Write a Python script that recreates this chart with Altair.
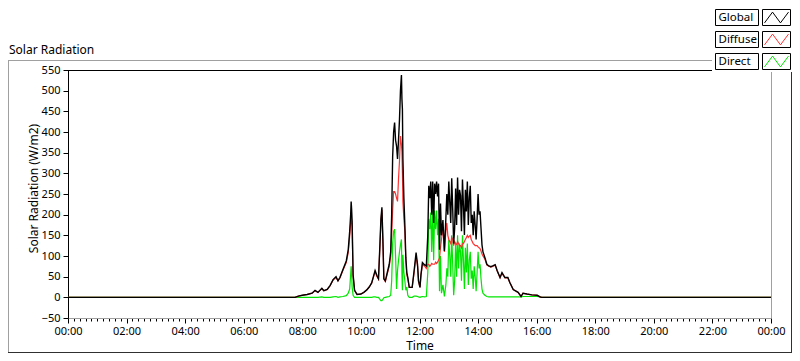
import altair as alt
import pandas as pd

# ---------------- data ----------------
times = [
    "00:00", "07:45", "07:52", "08:00", "08:10", "08:20", "08:26", "08:32", "08:40", "08:44",
    "08:51", "08:57", "09:03", "09:09", "09:13", "09:17", "09:23", "09:30", "09:34", "09:37",
    "09:39", "09:40", "09:41", "09:42", "09:44", "09:47", "09:52", "10:00", "10:06", "10:12",
    "10:17", "10:22", "10:26", "10:29", "10:33", "10:36", "10:39", "10:41", "10:43", "10:45",
    "10:47", "10:50", "10:54", "10:58", "11:01", "11:03", "11:05", "11:07", "11:09", "11:11",
    "11:13", "11:15", "11:17", "11:19", "11:21", "11:23", "11:24", "11:25", "11:26", "11:28",
    "11:30", "11:32", "11:34", "11:36", "11:39", "11:45", "11:49", "11:53", "11:56", "11:58",
    "12:01", "12:03", "12:06", "12:10", "12:14", "12:17", "12:19", "12:21", "12:23", "12:25",
    "12:27", "12:29", "12:31", "12:33", "12:35", "12:37", "12:39", "12:41", "12:43", "12:45",
    "12:48", "12:51", "12:54", "12:56", "12:58", "13:00", "13:02", "13:04", "13:06", "13:08",
    "13:10", "13:12", "13:14", "13:16", "13:18", "13:20", "13:22", "13:24", "13:26", "13:28",
    "13:30", "13:32", "13:34", "13:36", "13:38", "13:40", "13:42", "13:44", "13:46", "13:48",
    "13:50", "13:52", "13:54", "13:56", "13:58", "14:00", "14:02", "14:04", "14:06", "14:08",
    "14:10", "14:14", "14:18", "14:22", "14:26", "14:30", "14:35", "14:39", "14:45", "14:49",
    "14:55", "15:01", "15:05", "15:12", "15:22", "15:28", "15:32", "15:40", "15:50", "16:01",
    "16:07", "16:10", "24:00",
]

global_wm2 = [
    0, 0, 3, 5, 7, 10, 17, 12, 22, 16,
    19, 29, 43, 50, 40, 48, 67, 88, 115, 160,
    200, 232, 212, 184, 55, 17, 7, 8, 12, 18,
    25, 35, 52, 65, 52, 45, 130, 190, 218, 140,
    45, 40, 60, 80, 110, 200, 340, 400, 423, 380,
    366, 335, 380, 430, 500, 538, 480, 455, 335, 240,
    175, 96, 60, 48, 24, 24, 65, 108, 79, 40,
    24, 55, 84, 79, 76, 150, 270, 240, 280, 200,
    280, 180, 275, 250, 280, 244, 275, 115, 227, 150,
    187, 112, 191, 250, 200, 280, 230, 180, 288, 215,
    130, 167, 263, 175, 290, 200, 260, 246, 160, 285,
    222, 151, 260, 208, 280, 175, 240, 270, 180, 200,
    150, 208, 175, 140, 190, 250, 200, 208, 167, 127,
    110, 96, 80, 76, 74, 76, 79, 65, 48, 60,
    48, 48, 36, 19, 12, 2, 10, 8, 6, 5,
    1, 0, 0,
]

diffuse_wm2 = [
    0, 0, 3, 5, 7, 10, 16, 12, 21, 16,
    19, 28, 42, 48, 40, 47, 65, 84, 108, 148,
    180, 198, 185, 170, 52, 17, 7, 8, 12, 18,
    25, 34, 50, 62, 50, 44, 125, 185, 212, 138,
    44, 38, 57, 75, 100, 150, 210, 256, 256, 250,
    240, 232, 287, 330, 390, 370, 352, 300, 232, 190,
    160, 90, 55, 45, 24, 24, 60, 100, 75, 38,
    24, 53, 80, 76, 70, 80, 80, 75, 78, 82,
    80, 80, 80, 85, 82, 85, 90, 95, 120, 140,
    170, 110, 160, 180, 150, 140, 135, 130, 145, 140,
    125, 135, 130, 128, 135, 130, 125, 125, 120, 130,
    130, 135, 140, 145, 150, 145, 148, 150, 140, 135,
    130, 128, 125, 125, 125, 122, 120, 118, 112, 105,
    100, 92, 78, 75, 73, 75, 78, 64, 47, 58,
    47, 47, 36, 19, 12, 2, 10, 8, 6, 5,
    1, 0, 0,
]

direct_wm2 = [
    0, 0, 0, 0, 0, 0, 0, 0, 1, 0,
    0, 0, 1, 2, 0, 1, 2, 4, 10, 20,
    55, 75, 60, 25, 5, 0, 0, 0, 0, 0,
    0, 0, 1, 1, 0, 0, -5, -8, -8, -5,
    -1, 0, 1, 2, 5, 40, 130, 160, 165, 100,
    20, 65, 89, 110, 127, 140, 55, 17, 103, 60,
    40, 17, 25, 5, 0, 0, 3, 3, 2, 1,
    0, 1, 2, 1, 2, 60, 190, 165, 205, 110,
    210, 90, 210, 165, 210, 150, 190, 15, 100, 10,
    30, 2, 30, 70, 50, 140, 100, 50, 150, 80,
    5, 40, 130, 50, 150, 70, 130, 110, 40, 150,
    90, 20, 120, 60, 130, 30, 90, 110, 45, 65,
    20, 75, 50, 15, 60, 110, 70, 80, 45, 20,
    10, 5, 2, 1, 1, 1, 1, 1, 1, 1,
    1, 1, 1, 1, 1, 1, 2, 2, 2, 2,
    1, 0, 0,
]

series_names = ["Global", "Diffuse", "Direct"]
series_colors = ["#000000", "#ff3030", "#00e600"]
y_tick_values = [-50, 0, 50, 100, 150, 200, 250, 300, 350, 400, 450, 500, 550]
x_tick_minutes = list(range(0, 1441, 12))   # minor tick every 12 min, label every 2 h

assert len(times) == len(global_wm2) == len(diffuse_wm2) == len(direct_wm2)


def to_minutes(s):
    h, m = s.split(":")
    return int(h) * 60 + int(m)


df = pd.DataFrame({
    "t": [to_minutes(s) for s in times],
    "Global": global_wm2,
    "Diffuse": diffuse_wm2,
    "Direct": direct_wm2,
})

FONT = "Noto Sans"
W, H = 703, 248

xscale = alt.Scale(domain=[0, 1440], nice=False, zero=False)
yscale = alt.Scale(domain=[-50, 550], nice=False, zero=False)

xaxis = alt.Axis(
    values=x_tick_minutes,
    labelExpr="datum.value % 120 === 0 ? timeFormat(datetime(2000, 0, 1, 0, datum.value), '%H:%M') : ''",
    tickSize={"condition": {"test": "datum.value % 120 === 0", "value": 5}, "value": 3},
    labelOverlap=False, labelFlush=False, grid=False,
    domainColor="#a0a0a0", tickColor="#000000", labelColor="#000000",
    labelFont=FONT, labelFontSize=11, labelPadding=2,
    title="Time", titleFont=FONT, titleFontSize=12, titleFontWeight="normal",
    titleColor="#000000", titleX=W / 2, titleY=27, titleBaseline="middle",
)
yaxis = alt.Axis(
    values=y_tick_values, grid=False,
    domainColor="#000000", tickColor="#000000", tickSize=5, labelColor="#000000",
    labelFont=FONT, labelFontSize=11, labelPadding=3,
    title="Solar Radiation (W/m2)", titleFont=FONT, titleFontSize=12,
    titleFontWeight="normal", titleColor="#000000",
    titleX=-35, titleY=118, titleBaseline="middle", titleAngle=270,
)

base = alt.Chart(df)


def series_line(field, color, width):
    return base.mark_line(color=color, strokeWidth=width).encode(
        x=alt.X("t:Q", scale=xscale, axis=xaxis),
        y=alt.Y(f"{field}:Q", scale=yscale, axis=yaxis),
    )


one = alt.Chart(pd.DataFrame({"k": [0]}))


def hline(y, x1, x2, color):
    return one.mark_rule(color=color, strokeWidth=1).encode(
        x=alt.value(x1), x2=alt.value(x2), y=alt.value(y))


def vline(x, y1, y2, color):
    return one.mark_rule(color=color, strokeWidth=1).encode(
        x=alt.value(x), y=alt.value(y1), y2=alt.value(y2))


# svg is 784 x 345 (page 8..792, 8..353); plot origin at svg (60, 62)
layers = [
    # outer panel frame
    hline(-9.5, -60, 644, "#a0a0a0"),
    vline(-59.5, -10, 283, "#a0a0a0"),
    hline(282.5, -60, 724, "#303030"),
    vline(723.5, -10, 283, "#303030"),
    # panel caption
    one.mark_text(align="left", baseline="middle", font=FONT, fontSize=12, color="#000000").encode(
        x=alt.value(-59), y=alt.value(-20), text=alt.value("Solar Radiation")),
    # data
    series_line("Direct", series_colors[2], 1.2),
    series_line("Diffuse", series_colors[1], 1.2),
    series_line("Global", series_colors[0], 1.4),
    # top border of plot area
    hline(0.5, 0, W, "#000000"),
    # legend panel
    one.mark_rect(fill="white", stroke=None).encode(
        x=alt.value(644), x2=alt.value(724), y=alt.value(-62), y2=alt.value(2)),
]

ZIG = "M-1,0.45L-0.33,-0.45L0.33,0.45L1,-0.45"
for i, (name, color) in enumerate(zip(series_names, series_colors)):
    top = -61 + 22 * i
    layers.append(one.mark_rect(fill="white", stroke="#000000", strokeWidth=1).encode(
        x=alt.value(647.5), x2=alt.value(690.5), y=alt.value(top + 0.5), y2=alt.value(top + 16.5)))
    layers.append(one.mark_rect(fill="white", stroke="#000000", strokeWidth=1).encode(
        x=alt.value(694.5), x2=alt.value(722.5), y=alt.value(top + 0.5), y2=alt.value(top + 16.5)))
    layers.append(one.mark_text(align="left", baseline="middle", font=FONT, fontSize=11.5,
                                color="#000000").encode(
        x=alt.value(650.5), y=alt.value(top + 9), text=alt.value(name)))
    layers.append(one.mark_point(shape=ZIG, filled=False, color=color, strokeWidth=1,
                                 size=576, opacity=1).encode(
        x=alt.value(708.5), y=alt.value(top + 8.5)))

chart = alt.layer(*layers).properties(
    width=W, height=H,
    autosize=alt.AutoSizeParams(type="none"),
    padding={"left": 60, "top": 62, "right": 21, "bottom": 35},
    background="white",
).configure_view(stroke="#a0a0a0", strokeWidth=1)

chart.save("out.html", embed_options={"renderer": "svg", "actions": False})
